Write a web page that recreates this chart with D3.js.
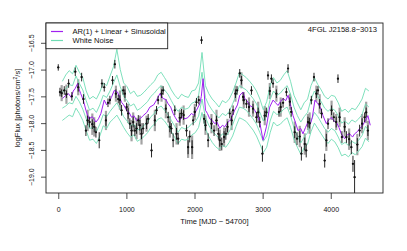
<!DOCTYPE html>
<html lang="en">
<head>
    <meta charset="UTF-8">
    <title>4FGL J2158.8-3013 light curve</title>
    <script src="https://cdn.jsdelivr.net/npm/d3@7"></script>
    <style>
        body{
            margin: 0;
            background: white;
        }
        svg text{
            font-family: "Liberation Sans", Arial, sans-serif;
            fill: #111;
        }
        .axis path{
            display: none;
        }
        .axis .tick line{
            stroke: #222;
            stroke-width: .8;
        }
    </style>
</head>
<body>
<svg id="main" width="407" height="251"></svg>
<script>
    // observed light curve (time in MJD - 54700, log flux, 1 sigma errors)
    const obsTime = [0,25,50,88,120,152,200,250,293,343,
        370,406,431,460,500,528,553,601,641,675,
        700,730,758,797,831,846,880,905,929,953,
        978,1003,1026,1051,1076,1100,1124,1150,1175,1198,
        1222,1246,1296,1320,1369,1418,1443,1466,1516,1540,
        1579,1613,1638,1660,1686,1711,1736,1760,1784,1809,
        1840,1883,1906,1930,1965,1980,2004,2029,2063,2103,
        2141,2161,2200,2249,2287,2323,2350,2371,2400,2434,
        2460,2484,2517,2545,2566,2601,2625,2664,2689,2713,
        2723,2762,2800,2836,2859,2909,2935,2957,2997,3031,
        3055,3079,3105,3129,3153,3202,3240,3265,3300,3349,
        3373,3400,3420,3471,3505,3545,3569,3618,3640,3666,
        3690,3715,3754,3789,3813,3837,3865,3911,3935,3960,
        4012,4045,4080,4106,4130,4164,4204,4230,4270,4302,
        4326,4350,4390,4424,4460,4497,4520,4545];
    const obsFlux = [-16.96,-17.42,-17.44,-17.39,-17.46,-17.26,-17.50,-17.04,-17.33,-17.14,
        -17.55,-18.14,-17.95,-17.98,-18.02,-18.07,-18.17,-18.32,-17.26,-17.33,
        -17.95,-17.62,-17.57,-17.20,-16.90,-17.45,-17.55,-17.57,-17.76,-17.39,
        -17.45,-17.70,-17.82,-18.01,-18.14,-17.98,-18.14,-18.10,-17.95,-18.04,
        -18.20,-18.10,-18.01,-17.92,-18.51,-17.95,-17.76,-17.57,-17.45,-17.39,
        -17.73,-17.89,-18.07,-18.10,-18.32,-17.76,-18.20,-18.29,-17.90,-17.82,
        -17.85,-18.14,-18.45,-18.25,-18.45,-17.95,-17.79,-17.61,-17.57,-16.45,
        -17.92,-18.04,-18.32,-18.01,-18.14,-17.95,-18.20,-18.32,-18.39,-18.26,
        -18.20,-18.07,-17.82,-17.95,-17.76,-17.45,-17.39,-17.07,-17.20,-17.51,
        -17.57,-17.64,-17.70,-17.39,-17.73,-17.89,-17.80,-17.98,-18.57,-17.86,
        -17.80,-17.11,-17.40,-17.17,-17.26,-17.45,-17.79,-17.70,-17.62,-17.42,
        -16.98,-17.60,-17.79,-18.17,-18.29,-18.25,-18.57,-18.39,-18.51,-17.98,
        -18.00,-17.57,-17.14,-17.45,-17.39,-17.64,-17.82,-18.70,-18.32,-18.01,
        -17.76,-17.89,-17.98,-17.17,-17.89,-18.26,-18.07,-18.26,-18.30,-18.45,
        -18.76,-19.01,-18.40,-18.14,-18.01,-17.89,-17.80,-18.14];
    const obsErr = [.06,.08,.07,.08,.07,.08,.08,.08,.08,.08,
        .09,.10,.09,.10,.09,.10,.10,.15,.08,.08,
        .10,.08,.08,.08,.08,.08,.08,.09,.10,.08,
        .08,.08,.10,.10,.10,.10,.10,.10,.10,.10,
        .10,.10,.10,.09,.13,.10,.08,.08,.08,.08,
        .08,.10,.10,.10,.13,.09,.11,.11,.09,.09,
        .09,.11,.13,.11,.13,.09,.09,.08,.08,.07,
        .09,.10,.13,.10,.10,.09,.11,.12,.12,.11,
        .11,.10,.09,.09,.09,.08,.08,.08,.08,.08,
        .08,.08,.09,.08,.09,.10,.09,.10,.15,.09,
        .09,.08,.08,.08,.08,.08,.09,.09,.09,.08,
        .08,.08,.09,.11,.12,.11,.13,.12,.13,.10,
        .10,.08,.08,.08,.08,.09,.09,.13,.12,.10,
        .09,.09,.10,.08,.09,.11,.10,.11,.12,.13,
        .15,.32,.12,.11,.10,.09,.09,.10];
    // grey bars drawn behind some of the points (0 = none)
    const greyErr = [0,0,.15,0,.18,0,0,0,.15,0,
        0,0,.2,0,.2,.18,0,0,0,0,
        .18,0,0,0,0,.15,0,.18,0,0,
        .15,0,.18,0,.2,.18,0,.2,0,.18,
        .2,0,.15,0,0,.2,0,0,.15,0,
        .18,0,.2,0,0,0,.2,0,.15,0,
        .18,0,.2,0,.22,0,.15,0,0,0,
        0,.18,0,.18,0,.2,0,.2,0,.18,
        0,.15,0,.18,0,.15,0,0,.15,0,
        .15,0,.18,0,.15,0,.2,0,0,.18,
        0,0,.15,0,0,.15,0,.18,0,0,
        0,.15,0,.2,0,.2,0,.2,0,.15,
        .2,0,0,.15,0,.18,0,0,.2,0,
        .18,0,.15,0,.18,0,.18,0,.2,0,
        0,0,.2,0,.18,0,.2,.18];

    // AR(1) + Linear + Sinusoidal model
    const modelTime = [64,110,150,190,220,250,284,310,330,370,
        406,450,500,553,590,626,675,710,740,780,
        821,870,900,929,960,1003,1040,1076,1110,1150,
        1200,1246,1300,1345,1400,1443,1491,1540,1580,1613,
        1650,1686,1720,1760,1784,1820,1860,1900,1955,1990,
        2029,2077,2100,2126,2161,2190,2224,2260,2297,2330,
        2371,2410,2444,2480,2517,2550,2590,2630,2664,2713,
        2737,2770,2810,2850,2883,2920,2957,3006,3055,3104,
        3153,3190,3226,3260,3299,3340,3373,3410,3446,3480,
        3519,3560,3592,3630,3666,3700,3730,3768,3813,3850,
        3886,3935,3970,4009,4045,4082,4120,4155,4204,4240,
        4277,4320,4350,4390,4424,4460,4497,4545,4580];
    const modelFlux = [-17.54,-17.48,-17.45,-17.52,-17.40,-17.35,-17.26,-17.38,-17.45,-17.58,
        -17.76,-17.92,-17.88,-17.98,-17.92,-17.82,-17.57,-17.66,-17.62,-17.52,
        -17.39,-17.42,-17.52,-17.61,-17.66,-17.76,-17.80,-17.89,-17.86,-17.95,
        -17.92,-17.86,-17.80,-17.70,-17.66,-17.57,-17.45,-17.54,-17.56,-17.64,
        -17.70,-17.82,-17.90,-17.98,-17.95,-17.88,-17.92,-17.90,-17.82,-17.85,
        -17.76,-17.64,-17.50,-17.17,-17.76,-17.82,-17.92,-17.95,-18.01,-17.98,
        -18.10,-18.04,-18.07,-18.00,-17.95,-17.88,-17.76,-17.66,-17.48,-17.42,
        -17.54,-17.58,-17.67,-17.70,-17.76,-17.84,-17.98,-18.32,-18.07,-17.70,
        -17.57,-17.62,-17.67,-17.60,-17.54,-17.58,-17.48,-17.66,-17.86,-17.98,
        -18.14,-18.10,-18.20,-18.08,-17.98,-18.02,-17.89,-17.57,-17.64,-17.72,
        -17.86,-18.01,-17.94,-17.89,-17.96,-17.98,-18.08,-18.20,-18.29,-18.22,
        -18.20,-18.26,-18.20,-18.16,-18.10,-18.06,-17.98,-17.86,-18.04];

    // white noise bands
    const noiseTime = [60,110,160,210,260,310,360,410,460,510,560,610,660,710,760,810,860,910,960,1010,1060,1110,1160,
        1210,1260,1310,1360,1410,1460,1510,1560,1610,1660,1710,1760,1810,1860,1910,1960,2010,2060,2110,2160,
        2210,2260,2310,2360,2410,2460,2510,2560,2610,2660,2710,2760,2810,2860,2910,2960,3010,3060,3110,3160,
        3210,3260,3310,3360,3410,3460,3510,3560,3610,3660,3710,3760,3810,3860,3910,3960,4010,4060,4110,4160,
        4210,4260,4310,4360,4410,4460,4510,4560];
    const noiseUpper2 = [-17.22,-17.10,-17.02,-17.08,-16.92,-17.05,-17.15,-17.40,-17.55,-17.50,-17.55,-17.42,-17.25,-17.30,-17.12,-16.95,-16.62,-17.00,-17.25,-17.32,-17.45,-17.40,-17.50,
        -17.48,-17.42,-17.35,-17.28,-17.22,-17.10,-17.05,-17.15,-17.25,-17.38,-17.48,-17.55,-17.46,-17.50,-17.52,-17.40,-17.38,-17.25,-16.68,-17.30,
        -17.45,-17.55,-17.62,-17.70,-17.58,-17.62,-17.55,-17.42,-17.25,-17.05,-17.10,-17.15,-17.22,-17.30,-17.40,-17.55,-17.75,-17.60,-17.30,-17.15,
        -17.25,-17.20,-17.10,-17.02,-17.22,-17.48,-17.62,-17.75,-17.62,-17.55,-17.30,-17.15,-17.28,-17.38,-17.50,-17.55,-17.48,-17.50,-17.62,-17.78,
        -17.74,-17.80,-17.72,-17.75,-17.66,-17.55,-17.35,-17.40];
    const noiseUpper1 = [-17.42,-17.36,-17.28,-17.30,-17.12,-17.26,-17.38,-17.58,-17.76,-17.72,-17.80,-17.66,-17.48,-17.52,-17.40,-17.25,-17.10,-17.32,-17.50,-17.58,-17.68,-17.64,-17.76,
        -17.72,-17.66,-17.60,-17.50,-17.44,-17.36,-17.30,-17.38,-17.46,-17.58,-17.70,-17.78,-17.70,-17.74,-17.72,-17.63,-17.60,-17.48,-17.05,-17.52,
        -17.66,-17.76,-17.84,-17.90,-17.82,-17.86,-17.78,-17.64,-17.48,-17.30,-17.34,-17.38,-17.46,-17.54,-17.64,-17.80,-17.96,-17.84,-17.56,-17.40,
        -17.48,-17.44,-17.36,-17.30,-17.46,-17.70,-17.86,-17.98,-17.88,-17.80,-17.56,-17.40,-17.50,-17.60,-17.72,-17.78,-17.72,-17.76,-17.86,-18.00,
        -17.96,-18.02,-17.94,-17.98,-17.92,-17.84,-17.64,-17.70];
    const noiseLower1 = [-17.72,-17.68,-17.62,-17.64,-17.50,-17.60,-17.74,-17.92,-18.10,-18.08,-18.16,-18.02,-17.84,-17.88,-17.78,-17.70,-17.62,-17.74,-17.88,-17.96,-18.05,-18.02,-18.13,
        -18.10,-18.04,-17.98,-17.88,-17.82,-17.72,-17.68,-17.76,-17.84,-17.95,-18.06,-18.17,-18.08,-18.11,-18.08,-18.01,-17.98,-17.87,-17.55,-17.89,
        -18.04,-18.15,-18.22,-18.28,-18.20,-18.24,-18.16,-18.03,-17.86,-17.70,-17.72,-17.76,-17.84,-17.92,-18.02,-18.18,-18.34,-18.24,-17.96,-17.78,
        -17.84,-17.81,-17.74,-17.70,-17.86,-18.09,-18.24,-18.37,-18.26,-18.18,-17.96,-17.80,-17.88,-17.99,-18.10,-18.17,-18.10,-18.14,-18.26,-18.40,
        -18.36,-18.42,-18.34,-18.38,-18.32,-18.23,-18.06,-18.14];
    const noiseLower2 = [-17.95,-17.90,-17.85,-17.88,-17.72,-17.82,-17.95,-18.14,-18.32,-18.30,-18.38,-18.24,-18.05,-18.10,-17.98,-17.92,-17.85,-17.96,-18.08,-18.18,-18.26,-18.22,-18.34,
        -18.30,-18.25,-18.18,-18.08,-18.02,-17.93,-17.90,-17.96,-18.05,-18.16,-18.27,-18.38,-18.30,-18.32,-18.30,-18.22,-18.18,-18.08,-17.80,-18.10,
        -18.25,-18.36,-18.44,-18.49,-18.42,-18.45,-18.36,-18.24,-18.06,-17.90,-17.93,-17.97,-18.05,-18.13,-18.24,-18.39,-18.55,-18.45,-18.18,-17.98,
        -18.05,-18.02,-17.95,-17.90,-18.08,-18.30,-18.45,-18.58,-18.46,-18.39,-18.16,-18.00,-18.10,-18.20,-18.30,-18.38,-18.30,-18.35,-18.46,-18.61,
        -18.58,-18.63,-18.55,-18.59,-18.52,-18.44,-18.28,-18.35];

    const xTicks = [0,1000,2000,3000,4000];
    const yTicks = [-19.0,-18.5,-18.0,-17.5,-17.0,-16.5];

    const box = {left: 46, right: 383, top: 23, bottom: 193};
    const purple = "#a020f0", mint = "#6fdcb4";

    const svg = d3.select("svg#main");

    const xScale = d3.scaleLinear().domain([-180, 4767]).range([box.left, box.right]);
    const yScale = d3.scaleLinear().domain([-19.305, -16.13]).range([box.bottom, box.top]);

    const points = obsTime.map((t, i) => ({t: t, f: obsFlux[i], e: obsErr[i], g: greyErr[i]}));

    const plot = svg.append("g");

    // grey bars first
    plot.selectAll(".grey")
        .data(points.filter(d => d.g > 0))
        .join("line")
        .attr("x1", d => xScale(d.t)).attr("x2", d => xScale(d.t))
        .attr("y1", d => yScale(d.f - d.g)).attr("y2", d => yScale(d.f + d.g))
        .attr("stroke", "#a3a3a3").attr("stroke-width", 2.2);

    const line = d3.line().x(d => xScale(d[0])).y(d => yScale(d[1]));

    // white noise
    [noiseUpper2, noiseUpper1, noiseLower1, noiseLower2].forEach(band => {
        plot.append("path")
            .attr("d", line(d3.zip(noiseTime, band)))
            .attr("fill", "none").attr("stroke", mint).attr("stroke-width", .9);
    });

    plot.append("path")
        .attr("d", line(d3.zip(modelTime, modelFlux)))
        .attr("fill", "none").attr("stroke", purple).attr("stroke-width", 1);

    // points with error bars
    const pts = plot.selectAll(".pt").data(points).join("g").attr("class", "pt");
    pts.append("line")
        .attr("x1", d => xScale(d.t)).attr("x2", d => xScale(d.t))
        .attr("y1", d => yScale(Math.max(d.f - d.e, -19.305))).attr("y2", d => yScale(d.f + d.e))
        .attr("stroke", "#111").attr("stroke-width", .9);
    pts.append("line")
        .attr("x1", d => xScale(d.t - 15)).attr("x2", d => xScale(d.t + 15))
        .attr("y1", d => yScale(d.f)).attr("y2", d => yScale(d.f))
        .attr("stroke", "#111").attr("stroke-width", .9);
    pts.append("circle")
        .attr("cx", d => xScale(d.t)).attr("cy", d => yScale(d.f))
        .attr("r", 1.1).attr("fill", "#111");

    // axes
    svg.append("g").attr("class", "axis")
        .attr("transform", `translate(0,${box.bottom})`)
        .call(d3.axisBottom(xScale).tickValues(xTicks).tickSize(6).tickPadding(8).tickFormat(d3.format("d")))
        .selectAll("text").attr("font-size", "7px").attr("fill", "#111");

    const yAxis = svg.append("g").attr("class", "axis")
        .attr("transform", `translate(${box.left},0)`)
        .call(d3.axisLeft(yScale).tickValues(yTicks).tickSize(5).tickFormat(d3.format(".1f")));
    yAxis.selectAll("text")
        .attr("font-size", "7px").attr("fill", "#111")
        .attr("x", 0).attr("dy", null)
        .attr("text-anchor", "middle")
        .attr("transform", "translate(-12,0) rotate(-90)");

    svg.append("rect")
        .attr("x", box.left).attr("y", box.top)
        .attr("width", box.right - box.left).attr("height", box.bottom - box.top)
        .attr("fill", "none").attr("stroke", "#222").attr("stroke-width", .9);

    svg.append("text")
        .attr("x", (box.left + box.right) / 2).attr("y", 224)
        .attr("text-anchor", "middle").attr("font-size", "7.6px")
        .text("Time [MJD \u2212 54700]");

    const yLab = svg.append("text")
        .attr("transform", `translate(19.5,${(box.top + box.bottom) / 2}) rotate(-90)`)
        .attr("text-anchor", "middle").attr("font-size", "7.6px");
    yLab.append("tspan").text("logFlux [photons/cm");
    yLab.append("tspan").attr("dy", -3).attr("font-size", "5px").text("2");
    yLab.append("tspan").attr("dy", 3).text("/s]");

    svg.append("text")
        .attr("x", 377).attr("y", 32)
        .attr("text-anchor", "end").attr("font-size", "7.6px")
        .text("4FGL J2158.8\u22123013");

    // legend
    const legend = svg.append("g");
    legend.append("rect")
        .attr("x", box.left).attr("y", box.top).attr("width", 121.7).attr("height", 25.7)
        .attr("fill", "white").attr("stroke", "#222").attr("stroke-width", .9);
    const entries = [["AR(1) + Linear + Sinusoidal", purple], ["White Noise", mint]];
    entries.forEach((d, i) => {
        legend.append("line")
            .attr("x1", 51).attr("x2", 63).attr("y1", 31.5 + i * 9).attr("y2", 31.5 + i * 9)
            .attr("stroke", d[1]).attr("stroke-width", 1.2);
        legend.append("text")
            .attr("x", 72.5).attr("y", 34.2 + i * 9)
            .attr("font-size", "7.6px").text(d[0]);
    });
</script>
</body>
</html>
